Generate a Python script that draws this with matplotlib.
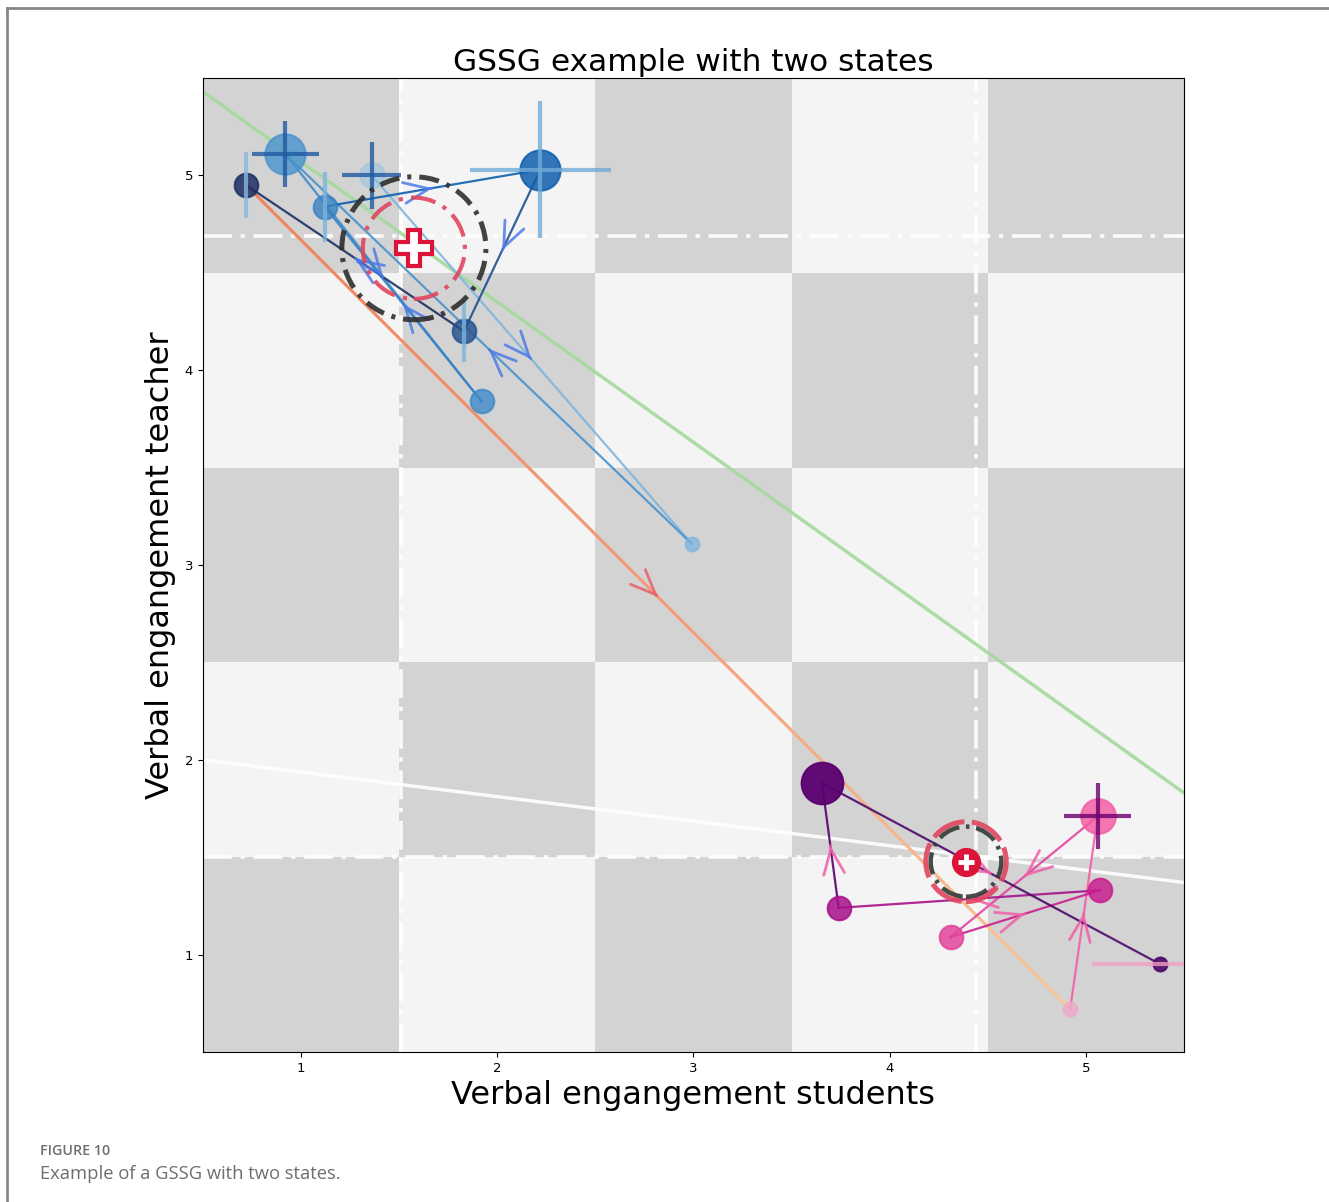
import numpy as np
import matplotlib
matplotlib.use("Agg")
import matplotlib.pyplot as plt
from matplotlib.patches import Rectangle, Circle
from matplotlib.collections import LineCollection
from matplotlib.lines import Line2D

# state 1 trajectory (time order)
s1_x = [1.36, 2.99, 0.92, 1.92, 1.12, 2.22, 1.83, 0.72]
s1_y = [5.00, 3.11, 5.11, 3.84, 4.84, 5.03, 4.20, 4.95]
s1_size = [18, 10, 29, 17, 17, 29, 17, 17]
s1_colors = ["#8fc1e3", "#7fb5de", "#4a93cd", "#3f8ac7", "#3a82c2", "#0f5fae", "#20508f", "#1d2f63"]
s1_alpha = [0.45, 0.75, 0.8, 0.8, 0.8, 0.85, 0.8, 0.85]
s1_xerr = [0.15, 0, 0.17, 0, 0, 0.36, 0, 0]
s1_yerr = [0.17, 0, 0.17, 0, 0.18, 0.35, 0.16, 0.17]
s1_err_colors = ["#1f5aa0", None, "#1f5aa0", None, "#7ab4dc", "#70acd8", "#7ab4dc", "#8ab8dc"]

# state 2 trajectory (time order)
s2_x = [4.92, 5.06, 4.31, 5.07, 3.74, 3.655, 5.38]
s2_y = [0.72, 1.71, 1.09, 1.33, 1.24, 1.88, 0.95]
s2_size = [10, 25, 17, 17, 17, 30, 10]
s2_colors = ["#eeaac8", "#f35fa6", "#e2459d", "#c81f8f", "#a6118b", "#5a0070", "#4c0a6a"]
s2_alpha = [0.85, 0.85, 0.85, 0.85, 0.85, 0.95, 0.9]
s2_xerr = [0, 0.17, 0, 0, 0, 0, 0.35]
s2_yerr = [0, 0.17, 0, 0, 0, 0, 0]
s2_err_colors = [None, "#6a006e", None, None, None, None, "#f2a0c2"]

# state centroids and reference lines
cent_x = [1.575, 4.389]
cent_y = [4.626, 1.477]
ref_x = [1.51, 4.44]
ref_y = [4.69, 1.50]
spread_r = [0.367, 0.18]
dev_r = [0.26, 0.205]

green_x = [0.5, 5.5]
green_y = [5.43, 1.83]
white_x = [0.5, 5.5]
white_y = [2.00, 1.37]

fig = plt.figure(figsize=(13.29, 12.02), dpi=100)
ax = fig.add_axes([0.1527, 0.1248, 0.7382, 0.8103])
ax.set_xlim(0.5, 5.5)
ax.set_ylim(0.5, 5.5)

# checkerboard background
for i in range(5):
    for j in range(5):
        c = "#d3d3d3" if (i + j) % 2 == 0 else "#f4f4f4"
        ax.add_patch(Rectangle((0.5 + i, 0.5 + j), 1, 1, facecolor=c, edgecolor="none", zorder=0))

dashdot = (0, (8, 2.4, 1.2, 2.4))
for k in range(2):
    ax.axvline(ref_x[k], color="white", lw=2.6, ls=dashdot, alpha=0.9, zorder=1)
    ax.axhline(ref_y[k], color="white", lw=2.6, ls=dashdot, alpha=0.9, zorder=1)

ax.plot(green_x, green_y, color="#a6d99e", lw=2.5, alpha=0.9, zorder=2)
ax.plot(white_x, white_y, color="white", lw=2.5, alpha=0.9, zorder=2)

# transition between the two states, coloured as a gradient
t = np.linspace(0, 1, 60)
tx = s1_x[-1] + t * (s2_x[0] - s1_x[-1])
ty = s1_y[-1] + t * (s2_y[0] - s1_y[-1])
segs = np.stack([np.column_stack([tx[:-1], ty[:-1]]), np.column_stack([tx[1:], ty[1:]])], axis=1)
cmap = matplotlib.colors.LinearSegmentedColormap.from_list("tr", ["#f08358", "#f59a78", "#f8c896"])
lc = LineCollection(segs, colors=cmap(t[:-1]), lw=2.2, zorder=2)
ax.add_collection(lc)


def chevron(x0, y0, x1, y1, color):
    mx, my = (x0 + x1) / 2, (y0 + y1) / 2
    dx, dy = x1 - x0, y1 - y0
    ax.annotate("", xy=(mx, my), xytext=(mx - dx * 0.002, my - dy * 0.002),
                arrowprops=dict(arrowstyle="->,head_length=1.8,head_width=0.75",
                                color=color, lw=2, shrinkA=0, shrinkB=0, alpha=0.85),
                zorder=4)


chevron(s1_x[-1], s1_y[-1], s2_x[0], s2_y[0], "#e8606a")


def draw_state(xs, ys, sizes, colors, alphas, xerr, yerr, ecols, arrow_col):
    for k in range(len(xs) - 1):
        ax.plot([xs[k], xs[k + 1]], [ys[k], ys[k + 1]], color=colors[k + 1], lw=1.6, alpha=0.9, zorder=3)
        chevron(xs[k], ys[k], xs[k + 1], ys[k + 1], arrow_col)
    for k in range(len(xs)):
        ax.plot(xs[k], ys[k], "o", ms=sizes[k], color=colors[k], alpha=alphas[k],
                mec=colors[k], mew=1.5, zorder=5)
        if ecols[k] is not None:
            ax.errorbar(xs[k], ys[k], xerr=xerr[k] or None, yerr=yerr[k] or None,
                        fmt="none", ecolor=ecols[k], elinewidth=3, alpha=0.8, zorder=6)


draw_state(s1_x, s1_y, s1_size, s1_colors, s1_alpha, s1_xerr, s1_yerr, s1_err_colors, "#4f7be6")
draw_state(s2_x, s2_y, s2_size, s2_colors, s2_alpha, s2_xerr, s2_yerr, s2_err_colors, "#f060a8")

# state 1 spread circles and centroid
ax.add_patch(Circle((cent_x[0], cent_y[0]), spread_r[0], fill=False, ec="#2e2e2e", lw=3.6,
                    ls=(0, (4, 1.6, 0.8, 1.6)), zorder=7, alpha=0.9))
ax.add_patch(Circle((cent_x[0], cent_y[0]), dev_r[0], fill=False, ec="#e0455f", lw=3,
                    ls=(0, (6, 2, 1, 2)), zorder=7, alpha=0.9))
ax.plot(cent_x[0], cent_y[0], "P", ms=26, mfc="white", mec="#dc1438", mew=3, zorder=8)

# state 2 spread circles and centroid
ax.add_patch(Circle((cent_x[1], cent_y[1]), dev_r[1], fill=False, ec="#e0455f", lw=3.6,
                    ls=(0, (7, 1.5)), zorder=7, alpha=0.9))
ax.add_patch(Circle((cent_x[1], cent_y[1]), spread_r[1], fill=False, ec="#333a33", lw=3.2,
                    ls=(0, (5, 1.5, 0.8, 1.5)), zorder=7, alpha=0.9))
ax.plot(cent_x[1], cent_y[1], "o", ms=20, color="#dc1438", zorder=8)
ax.plot(cent_x[1], cent_y[1], "+", ms=12, mew=3.5, color="white", zorder=9)

ax.set_xticks([1, 2, 3, 4, 5])
ax.set_yticks([1, 2, 3, 4, 5])
ax.tick_params(labelsize=9.5)
ax.set_title("GSSG example with two states", fontsize=22.5, pad=5)
ax.set_xlabel("Verbal engangement students", fontsize=23, labelpad=4)
ax.set_ylabel("Verbal engangement teacher", fontsize=23, labelpad=6)

# page frame and caption
fig.add_artist(Line2D([0.0055, 0.0055], [0, 0.9935], color="#888888", lw=2))
fig.add_artist(Line2D([0.0055, 1], [0.9935, 0.9935], color="#888888", lw=2))
fig.text(0.030, 0.0395, "FIGURE 10", fontsize=10.3, color="#6e6e6e", fontweight="semibold",
         family="Open Sans")
fig.text(0.030, 0.0195, "Example of a GSSG with two states.", fontsize=13.2, color="#6e6e6e",
         family="Open Sans")

fig.savefig("out.png", dpi=100)
